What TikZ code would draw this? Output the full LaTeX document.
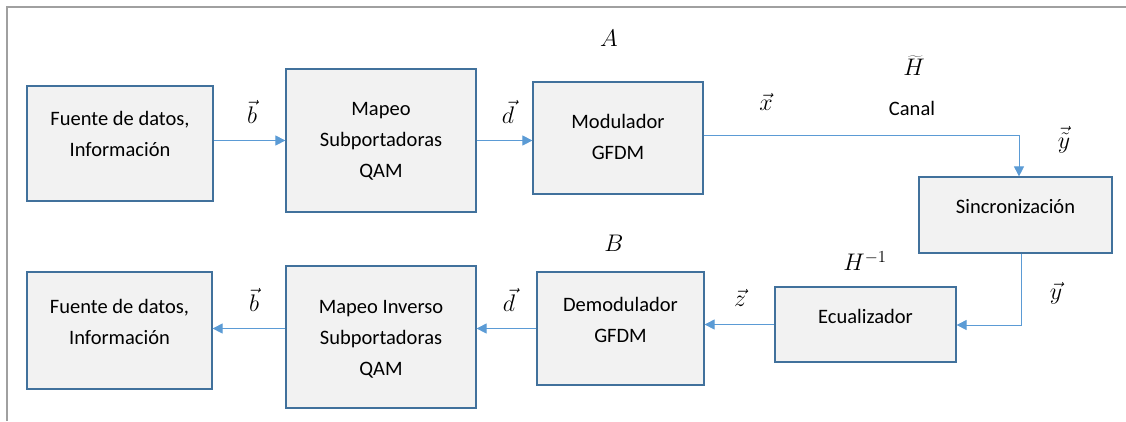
\documentclass[tikz,border=0pt]{standalone}
\usepackage{fix-cm}
\usepackage{fontspec}
\setmainfont{Carlito}
\usetikzlibrary{arrows.meta}
\definecolor{boxfill}{HTML}{F2F2F2}
\definecolor{boxline}{HTML}{41719C}
\definecolor{flow}{HTML}{5B9BD5}
\definecolor{framegray}{HTML}{A0A0A0}
\begin{document}
\begin{tikzpicture}[x=1pt,y=-1pt,
  block/.style={draw=boxline, fill=boxfill, line width=1.2pt, inner sep=0pt},
  txt/.style={font=\fontsize{20.5}{31}\selectfont, align=center, inner sep=0pt},
  lbl/.style={font=\fontsize{24}{28}\selectfont, inner sep=0pt},
  flowarrow/.style={draw=flow, line width=0.8pt, -{Triangle[length=10pt,width=10pt]}},
]
\useasboundingbox (0,0) rectangle (1126,421);
% outer frame (top and left edges)
\draw[framegray, line width=1.2pt] (7,421) -- (7,7) -- (1126,7);

% blocks
\node[block, minimum width=186pt, minimum height=115pt] (f1) at (120,143.5) {};
\node[block, minimum width=190pt, minimum height=143pt] (m1) at (381,140.5) {};
\node[block, minimum width=170pt, minimum height=112pt] (mod) at (618,138) {};
\node[block, minimum width=193pt, minimum height=76pt] (sync) at (1015.5,215) {};
\node[block, minimum width=181pt, minimum height=75pt] (eq) at (865.5,324.5) {};
\node[block, minimum width=167pt, minimum height=113pt] (dem) at (620.5,328.5) {};
\node[block, minimum width=190pt, minimum height=142pt] (m2) at (381,337) {};
\node[block, minimum width=185pt, minimum height=117pt] (f2) at (119.5,330.5) {};

% block texts
\node[txt] (tf1) at (120,134) {Fuente de datos,\\Información};
\node[txt] (tm1) at (381,141) {Mapeo\\Subportadoras\\QAM};
\node[txt] (tmod) at (618,137) {Modulador\\GFDM};
\node[txt] (tsync) at (1015.5,207) {Sincronización};
\node[txt] (teq) at (865.5,316) {Ecualizador};
\node[txt] (tdem) at (620.5,320) {Demodulador\\GFDM};
\node[txt] (tm2) at (381,339) {Mapeo Inverso\\Subportadoras\\QAM};
\node[txt] (tf2) at (119.5,322) {Fuente de datos,\\Información};

% connector bends
\coordinate (xc) at (1019,135);
\coordinate (yc) at (1021,325);

% connectors
\draw[flowarrow] (f1.east |- m1.west) -- (m1.west);
\draw[flowarrow] (m1.east) -- (mod.west |- m1.east);
\draw[flowarrow] (mod.east |- xc) -- (xc) -- (xc |- sync.north);
\draw[flowarrow] (yc |- sync.south) -- (yc) -- (eq.east |- yc);
\draw[flowarrow] (eq.west) -- (dem.east |- eq.west);
\draw[flowarrow] (dem.west) -- (m2.east |- dem.west);
\draw[flowarrow] (m2.west |- dem.west) -- (f2.east |- dem.west);

% signal labels
\node[lbl] (la) at (609,38) {$A$};
\node[lbl] (lh) at (914,66) {$\widetilde{H}$};
\node[lbl] (lx) at (766,102) {$\vec{x}$};
\node[txt] (lcanal) at (912,108) {Canal};
\node[lbl] (lyt) at (1064,140) {$\vec{\tilde{y}}$};
\node[lbl] (ly) at (1056,293) {$\vec{y}$};
\node[lbl] (lb1) at (252,112) {$\vec{b}$};
\node[lbl] (ld1) at (508,112) {$\vec{d}$};
\node[lbl] (lbb) at (614,243) {$B$};
\node[lbl] (lhi) at (865,261) {$H^{-1}$};
\node[lbl] (lz) at (740,298) {$\vec{z}$};
\node[lbl] (ld2) at (509,300) {$\vec{d}$};
\node[lbl] (lb2) at (254,300) {$\vec{b}$};
\end{tikzpicture}
\end{document}
